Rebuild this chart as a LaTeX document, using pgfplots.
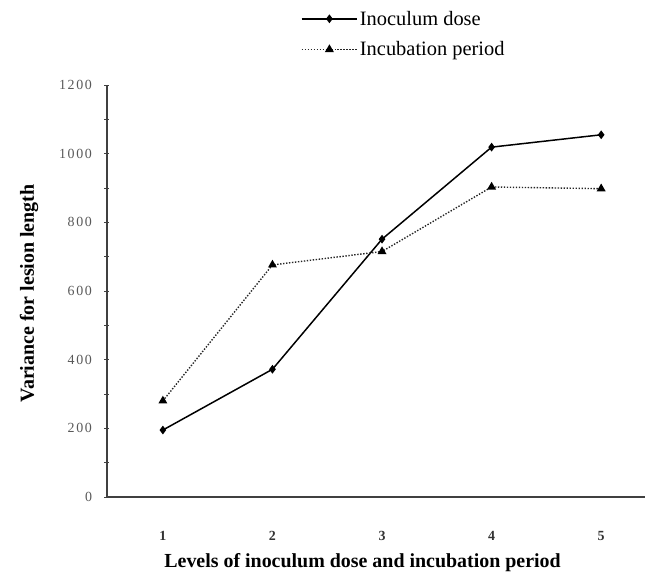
\documentclass[border=0pt]{standalone}
\usepackage{pgfplots}
\pgfplotsset{compat=1.18}
\usepackage{fontspec}
\setmainfont{Liberation Serif}
\begin{document}
\begin{tikzpicture}
\useasboundingbox (-107bp,-83bp) rectangle (542bp,497bp);
\begin{axis}[
  at={(0,0)}, anchor=origin,
  scale only axis, width=538bp, height=412bp,
  xmin=0.49, xmax=5.4, ymin=0, ymax=1200,
  axis x line=bottom, axis y line=left,
  axis line style={-, line width=1.5pt, black!75},
  xtick={1,2,3,4,5}, major x tick style={draw=none},
  ytick={0,200,...,1200}, minor ytick={100,300,...,1100},
  tick align=center, major tick length=5bp, minor tick length=5bp,
  every tick/.style={black!75, line width=0.8pt},
  /pgf/number format/assume math mode=true,
  /pgf/number format/1000 sep={},
  yticklabel style={font=\fontsize{14}{16}\selectfont\addfontfeature{LetterSpace=12}, text=black!65, xshift=-9bp},
  xticklabel style={font=\fontsize{14}{16}\selectfont\bfseries, text=black!80, yshift=-28bp},
  xlabel={Levels of inoculum dose and incubation period},
  xlabel style={font=\fontsize{20}{22}\selectfont\bfseries, at={(axis description cs:0.475,0)}, anchor=center, yshift=-66bp},
  ylabel={Variance for lesion length},
  ylabel style={font=\fontsize{20}{22}\selectfont\bfseries, at={(axis description cs:-0.145,0.494)}, anchor=center},
  legend style={draw=none, fill=none, at={(axis description cs:0.36,1.185)}, anchor=north west,
    font=\fontsize{20.5}{22}\selectfont, row sep=11bp, inner sep=0pt},
  legend cell align=left,
  legend image code/.code={\draw[mark repeat=2,mark phase=2,#1] plot coordinates {(0cm,0cm) (0.98cm,0cm) (1.96cm,0cm)};},
]
\addplot[black, line width=1.5pt, mark=diamond*, mark size=3.2pt] coordinates {
  (1,195) (2,372) (3,751) (4,1019) (5,1055)};
\addlegendentry{Inoculum dose}
\addplot[black!85, line width=1.4pt, dash pattern=on 1.4pt off 1.6pt, mark=triangle*, mark size=3.8pt, mark options={solid, black}] coordinates {
  (1,280) (2,676) (3,715) (4,903) (5,898)};
\addlegendentry{Incubation period}
\end{axis}
\end{tikzpicture}
\end{document}
